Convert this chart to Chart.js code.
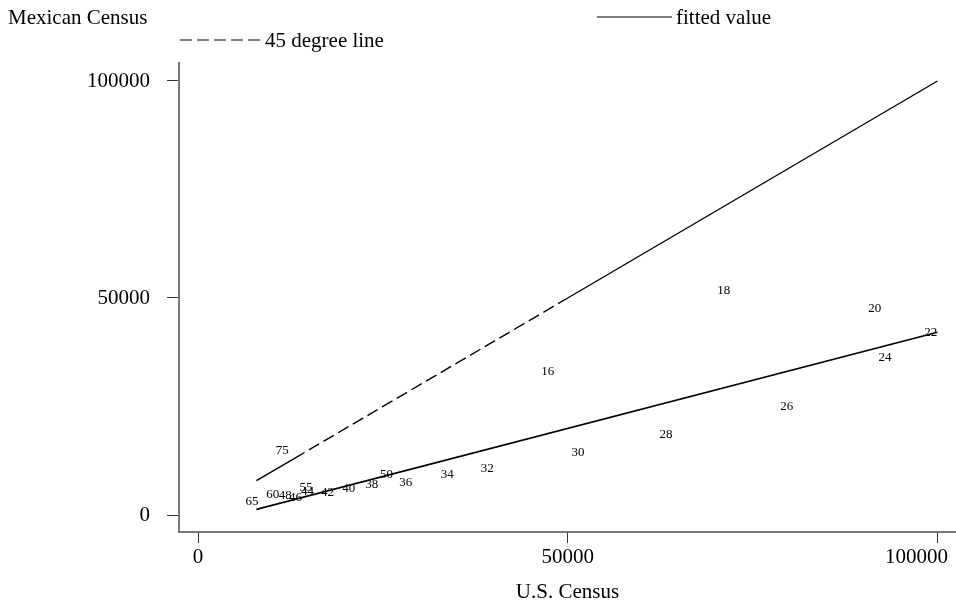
<!DOCTYPE html>
<html>
<head>
<meta charset="utf-8">
<script src="https://cdn.jsdelivr.net/npm/chart.js@4/dist/chart.umd.min.js"></script>
<style>
  body { margin: 0; background: #fff; }
  canvas { display: block; }
</style>
</head>
<body>
<canvas id="canvas1" width="956" height="605"></canvas>
<script>
// age groups, shown as marker labels
const ages = ['16', '18', '20', '22', '24', '26', '28', '30', '32', '34', '36',
              '38', '40', '42', '44', '46', '48', '50', '55', '60', '65', '75'];
const usCensus = [47300, 71100, 91500, 99100, 92900, 79600, 63300, 51400, 39100, 33700, 28100,
                  23500, 20400, 17500, 14800, 13200, 11800, 25500, 14600, 10100, 7300, 11400];
const mexCensus = [33100, 51800, 47600, 42100, 36300, 25000, 18600, 14400, 10800, 9200, 7500,
                   7100, 6100, 5200, 5300, 4000, 4400, 9400, 6300, 4700, 3200, 14900];

// fitted value line
const fitX = [7900, 100000];
const fitY = [1300, 42100];

// 45 degree line
const degX = [7900, 13000, 50000, 100000];

const xTicks = [0, 50000, 100000];
const yTicks = [0, 50000, 100000];

const serif = '"Liberation Serif", "Times New Roman", serif';

function Points(xs, ys) {
    return xs.map((v, i) => ({ x: v, y: ys[i] }));
}

const ageLabels = {
    id: 'ageLabels',
    afterDatasetsDraw(chart) {
        const ctx = chart.ctx;
        const meta = chart.getDatasetMeta(2);
        ctx.save();
        ctx.font = '13px ' + serif;
        ctx.fillStyle = '#000';
        ctx.textAlign = 'center';
        ctx.textBaseline = 'middle';
        meta.data.forEach((pt, i) => ctx.fillText(ages[i], pt.x, pt.y));
        ctx.restore();
    }
};

// y title and the two-row legend sit above the plot
const topKey = {
    id: 'topKey',
    afterDraw(chart) {
        const ctx = chart.ctx;
        ctx.save();
        ctx.font = '21px ' + serif;
        ctx.fillStyle = '#000';
        ctx.textBaseline = 'middle';
        ctx.fillText('Mexican Census', 8, 18);

        ctx.strokeStyle = '#000';
        ctx.lineWidth = 1;
        ctx.beginPath();
        ctx.moveTo(597, 17);
        ctx.lineTo(672, 17);
        ctx.stroke();
        ctx.fillText('fitted value', 676, 18);

        ctx.setLineDash([12, 5]);
        ctx.beginPath();
        ctx.moveTo(180, 40);
        ctx.lineTo(263, 40);
        ctx.stroke();
        ctx.setLineDash([]);
        ctx.fillText('45 degree line', 265, 41);
        ctx.restore();
    }
};

function MakeChart() {
    const data = {
        datasets: [{
            label: 'fitted value',
            type: 'line',
            data: Points(fitX, fitY),
            borderColor: '#000',
            borderWidth: 1.6,
            pointRadius: 0,
            fill: false
        }, {
            label: '45 degree line',
            type: 'line',
            data: Points(degX, degX),
            borderColor: '#000',
            borderWidth: 1.4,
            pointRadius: 0,
            fill: false,
            segment: {
                borderDash: c => c.p0DataIndex === 1 ? [12, 5] : []
            }
        }, {
            label: 'age',
            type: 'scatter',
            data: Points(usCensus, mexCensus),
            pointRadius: 0,
            pointHoverRadius: 0
        }]
    };

    const axisFont = { family: serif, size: 21 };

    const config = {
        type: 'scatter',
        data: data,
        options: {
            responsive: false,
            animation: false,
            layout: { autoPadding: false, padding: { top: 63, right: 0, left: 0, bottom: 0 } },
            plugins: {
                legend: { display: false },
                tooltip: { enabled: false }
            },
            scales: {
                x: {
                    type: 'linear',
                    min: -2570,
                    max: 102500,
                    afterBuildTicks: s => { s.ticks = xTicks.map(v => ({ value: v })); },
                    afterFit: s => { s.height = 73; s.paddingLeft = 0; s.paddingRight = 0; },
                    ticks: {
                        font: axisFont,
                        color: '#000',
                        padding: 2,
                        maxRotation: 0,
                        // last label is pushed left so it stays inside the canvas
                        callback: v => v === 100000 ? String(v) + '        ' : String(v)
                    },
                    grid: { drawOnChartArea: false, tickLength: 11, tickColor: '#333', tickWidth: 1 },
                    border: { color: '#777', width: 2 },
                    title: {
                        display: true,
                        text: 'U.S. Census',
                        font: axisFont,
                        color: '#000',
                        padding: { top: 0, bottom: 0 }
                    }
                },
                y: {
                    type: 'linear',
                    min: -3917,
                    max: 104147,
                    afterBuildTicks: s => { s.ticks = yTicks.map(v => ({ value: v })); },
                    afterFit: s => { s.width = 179; s.paddingTop = 0; s.paddingBottom = 0; },
                    ticks: {
                        font: axisFont,
                        color: '#000',
                        padding: 17,
                        callback: v => String(v)
                    },
                    grid: { drawOnChartArea: false, tickLength: 12, tickColor: '#333', tickWidth: 1 },
                    border: { color: '#777', width: 2 }
                }
            }
        },
        plugins: [ageLabels, topKey]
    };

    const canvas = document.getElementById('canvas1');
    return new Chart(canvas, config);
}

MakeChart();
</script>
</body>
</html>
